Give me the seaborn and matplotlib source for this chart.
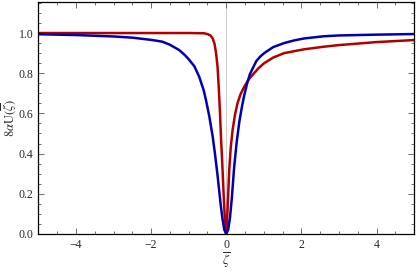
import numpy as np
import pandas as pd
import seaborn as sns
import matplotlib
matplotlib.use("Agg")
import matplotlib.pyplot as plt
from matplotlib.ticker import MultipleLocator

# blue curve
blue_x = [-5.0, -4.0, -3.0, -2.5, -2.0, -1.7, -1.5, -1.25, -1.1, -1.0, -0.85, -0.72,
          -0.6, -0.54, -0.45, -0.36, -0.3, -0.23, -0.15, -0.1, -0.05, 0.0,
          0.05, 0.1, 0.15, 0.21, 0.28, 0.35, 0.42, 0.48, 0.55, 0.63, 0.72, 0.8,
          0.9, 1.01, 1.25, 1.54, 1.8, 2.07, 2.6, 3.0, 4.0, 5.0]
blue_y = [0.994, 0.990, 0.983, 0.977, 0.966, 0.957, 0.942, 0.915, 0.89, 0.870, 0.835, 0.783,
          0.715, 0.667, 0.585, 0.484, 0.40, 0.29, 0.15, 0.075, 0.02, 0.0,
          0.02, 0.08, 0.18, 0.33, 0.46, 0.56, 0.635, 0.69, 0.745, 0.795, 0.83, 0.86,
          0.882, 0.90, 0.93, 0.95, 0.963, 0.973, 0.984, 0.988, 0.992, 0.995]

# red curve
red_x = [-5.0, -1.0, -0.6, -0.5, -0.42, -0.36, -0.31, -0.27, -0.23, -0.2, -0.17,
         -0.14, -0.1, -0.07, -0.04, 0.0,
         0.03, 0.08, 0.12, 0.17, 0.23, 0.3, 0.38, 0.48, 0.6, 0.74, 0.87, 1.01, 1.25,
         1.54, 2.07, 2.6, 3.0, 4.0, 5.0]
red_y = [1.0, 1.0, 0.999, 0.995, 0.988, 0.973, 0.945, 0.90, 0.83, 0.733, 0.62,
         0.484, 0.33, 0.2, 0.09, 0.0,
         0.1, 0.318, 0.43, 0.517, 0.59, 0.65, 0.695, 0.733, 0.77, 0.80, 0.827, 0.85, 0.878,
         0.90, 0.919, 0.932, 0.94, 0.955, 0.965]

blue = pd.DataFrame({"x": blue_x, "y": blue_y})
red = pd.DataFrame({"x": red_x, "y": red_y})

sns.set_style("ticks")
plt.rcParams["font.family"] = ["Liberation Serif", "DejaVu Serif"]
plt.rcParams["mathtext.fontset"] = "stix"

fig = plt.figure(figsize=(4.17, 2.72), dpi=100)
ax = fig.add_axes([0.092, 0.14, 0.901, 0.853])

ax.axvline(0, color="#cccccc", lw=0.7, zorder=0)
sns.lineplot(data=red, x="x", y="y", sort=False, color="#b00000", lw=1.8, ax=ax)
sns.lineplot(data=blue, x="x", y="y", sort=False, color="#0000b0", lw=1.8, ax=ax)

ax.set_xlim(-5, 5)
ax.set_ylim(0, 1.155)
ax.xaxis.set_major_locator(MultipleLocator(2))
ax.xaxis.set_minor_locator(MultipleLocator(0.5))
ax.yaxis.set_major_locator(MultipleLocator(0.2))
ax.yaxis.set_minor_locator(MultipleLocator(0.05))
ax.tick_params(which="both", direction="in", top=True, right=True,
               labelsize=8.5, color="#555555", width=0.6)
ax.tick_params(which="major", length=4)
ax.tick_params(which="minor", length=2)
ax.set_xticklabels([f"{t:g}".replace("-", "\u2212") for t in ax.get_xticks()])
ax.set_yticklabels([f"{t:.1f}" for t in ax.get_yticks()])

for s in ax.spines.values():
    s.set_linewidth(0.9)
    s.set_color("black")

ax.set_xlabel(r"$\overline{\zeta}$", fontsize=9.5)
ax.xaxis.set_label_coords(0.5, -0.072)
ax.set_ylabel(r"$8\alpha\mathrm{U}(\overline{\zeta})$", fontsize=9)
ax.yaxis.set_label_coords(-0.052, 0.5)

fig.savefig("out.png", dpi=100)
